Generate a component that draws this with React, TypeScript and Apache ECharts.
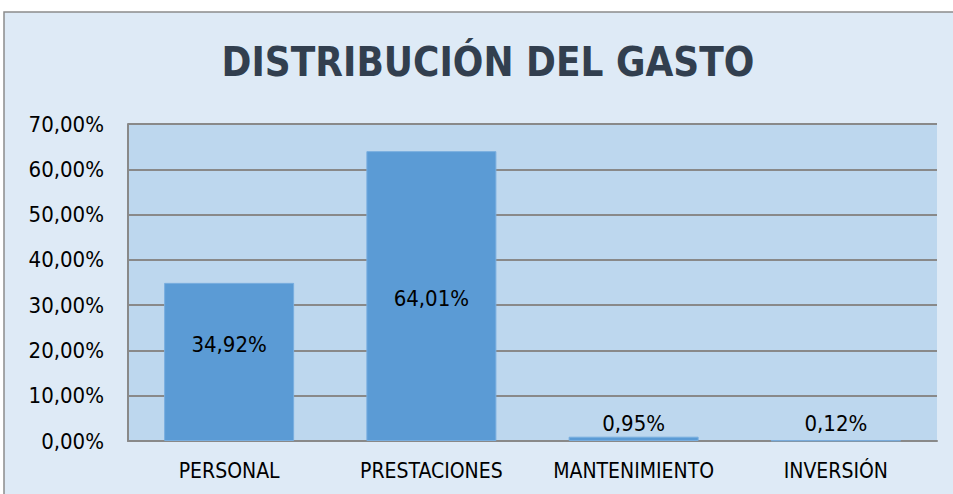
import React, { useEffect, useRef } from "react";
import * as echarts from "echarts";

const categories = ["PERSONAL", "PRESTACIONES", "MANTENIMIENTO", "INVERSIÓN"];
const values = [34.92, 64.01, 0.95, 0.12];
const titleText = "DISTRIBUCIÓN DEL GASTO";

const FONT = "'DejaVu Sans Condensed', 'Liberation Sans', sans-serif";

function fmt(v: number): string {
  return v.toFixed(2).replace(".", ",") + "%";
}

const labelOffsets = [[0, -17], [0, 2], [0, 0], [0, -4]];

export default function App() {
  const ref = useRef<HTMLDivElement>(null);
  useEffect(() => {
    if (!ref.current) return;
    const chart = echarts.init(ref.current, undefined, { renderer: "svg" });
    const data = values.map((v, i) => {
      if (v > 10) {
        return {
          value: v,
          label: { position: "inside", offset: labelOffsets[i] },
        };
      }
      return { value: v, label: { position: "top", distance: 2, offset: labelOffsets[i] } };
    });
    chart.setOption({
      animation: false,
      backgroundColor: "#ffffff",
      graphic: [
        {
          type: "rect",
          shape: { x: 4, y: 12, width: 980, height: 500 },
          style: { fill: "#DEEAF6", stroke: "#8C8C8C", lineWidth: 1.5 },
          z: -10,
          silent: true,
        },
        {
          type: "text",
          x: 488,
          y: 62,
          style: {
            text: titleText,
            fill: "#323F4F",
            font: "bold 40px " + FONT,
            textAlign: "center",
            textVerticalAlign: "middle",
          },
        },
      ],
      grid: {
        left: 128,
        right: 16,
        top: 124,
        bottom: 53,
        show: true,
        backgroundColor: "#BDD7EE",
        borderWidth: 0,
      },
      xAxis: {
        type: "category",
        data: categories,
        axisLine: { show: true, lineStyle: { color: "#898989", width: 2 } },
        axisTick: { show: false },
        axisLabel: {
          interval: 0,
          color: "#000",
          fontFamily: FONT,
          fontSize: 21,
          margin: 19,
        },
      },
      yAxis: {
        type: "value",
        min: 0,
        max: 70,
        interval: 10,
        axisLine: { show: true, lineStyle: { color: "#898989", width: 2 } },
        axisTick: { show: false },
        splitLine: { show: true, lineStyle: { color: "#898989", width: 2 } },
        axisLabel: {
          color: "#000",
          fontFamily: FONT,
          fontSize: 22,
          margin: 24,
          formatter: (v: number) => fmt(v),
        },
      },
      series: [
        {
          type: "bar",
          data,
          barWidth: 130,
          itemStyle: { color: "#5B9BD5", borderColor: "#79AEDF", borderWidth: 1 },
          label: {
            show: true,
            color: "#000",
            fontFamily: FONT,
            fontSize: 22,
            formatter: (p: any) => fmt(p.value),
          },
        },
      ],
    });
    return () => chart.dispose();
  }, []);
  return (
    <div
      ref={ref}
      style={{ position: "fixed", left: 0, top: 0, width: 953, height: 494 }}
    />
  );
}
